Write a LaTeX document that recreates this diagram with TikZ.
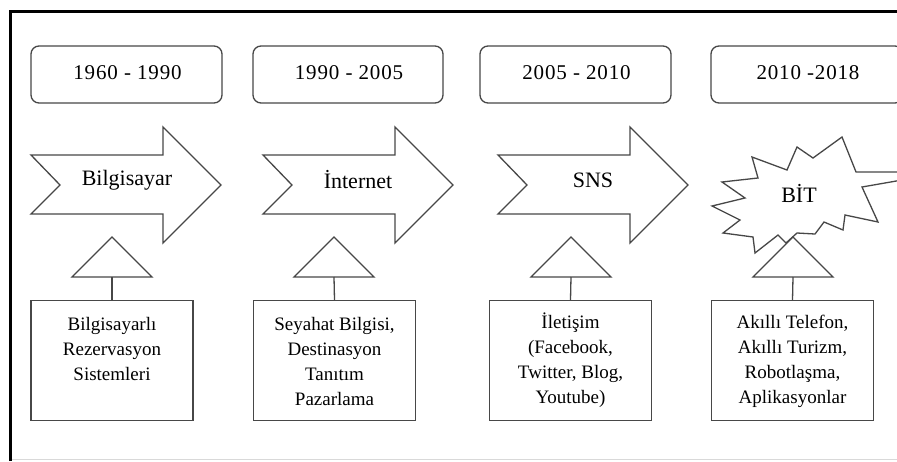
\documentclass[tikz,border=0pt]{standalone}
\usepackage{fontspec}
\setmainfont{Liberation Serif}
\newfontfamily\spacedserif[LetterSpace=4]{Liberation Serif}
\begin{document}
\begin{tikzpicture}[x=1pt,y=-1pt,
  shape line/.style={draw=black!72,line width=1.3pt,line join=miter},
  period/.style={shape line,rounded corners=8pt,fill=white},
  era/.style={shape line,fill=white},
  periodtext/.style={font=\spacedserif\fontsize{21}{25}\selectfont,inner sep=0pt},
  eratext/.style={font=\fontsize{22}{26}\selectfont,inner sep=0pt},
  tri/.style={shape line,fill=white},
  infobox/.style={shape line,fill=white,rectangle,minimum width=162pt,minimum height=120pt,anchor=north,inner sep=0pt},
  infotext/.style={font=\fontsize{19}{25}\selectfont,align=center,anchor=north,inner sep=0pt},
  link/.style={draw=black!72,line width=1.3pt}]
\useasboundingbox (0,0) rectangle (897,461);
\fill[white] (0,0) rectangle (897,461);
% frame
\draw[black!15,line width=1pt] (10,459.5) -- (897,459.5);
\draw[black,line width=2.6pt] (10.5,461) -- (10.5,11.5) -- (900,11.5);

% period boxes
\draw[period] (31,46) rectangle (222,103);
\node[periodtext] (p1) at (127.5,73) {1960 - 1990};
\draw[period] (253,46) rectangle (443,103);
\node[periodtext] (p2) at (349,73) {1990 - 2005};
\draw[period] (480,46) rectangle (671,103);
\node[periodtext] (p3) at (576.5,73) {2005 - 2010};
\draw[period] (711,46) rectangle (903,103);
\node[periodtext] (p4) at (808,73) {2010 -2018};

% notched arrows
\foreach \t/\n in {31/a1,263/a2,498/a3}{
  \draw[era] (\t,155) -- (\t+132,155) -- (\t+132,127) -- (\t+190,185) -- (\t+132,243)
     -- (\t+132,214) -- (\t,214) -- (\t+29,185) -- cycle;
}
\node[eratext] (e1) at (127,180) {Bilgisayar};
\node[eratext] (e2) at (358,180) {İnternet};
\node[eratext] (e3) at (593,180) {SNS};

% burst
\draw[era] (712,206) -- (745,198) -- (722,182) -- (758,178) -- (752,157) -- (787,170)
  -- (797,147) -- (813,158) -- (842,137) -- (856,172) -- (925,172) -- (925,176) -- (862,187)
  -- (878,222) -- (845,215) -- (843,230) -- (824,222) -- (815,234) -- (797,233)
  -- (786,243) -- (778,235) -- (755,253) -- (753,237) -- (723,233) -- (740,220) -- cycle;
\node[eratext] (e4) at (799,193) {BİT};

% triangles
\foreach \c/\n in {112/t1,334/t2,571/t3,793/t4}{
  \draw[tri] (\c-40,277) -- (\c,237) -- (\c+40,277) -- cycle;
  \coordinate (\n) at (\c,277);
}

% info boxes
\node[infobox] (b1) at (112,300) {};
\node[infobox] (b2) at (334.5,300) {};
\node[infobox] (b3) at (570.5,300) {};
\node[infobox] (b4) at (792.5,300) {};

\node[infotext] (i1) at (112,312.5) {\strut Bilgisayarlı\\Rezervasyon\\Sistemleri};
\node[infotext] (i2) at (334.5,312.5) {\strut Seyahat Bilgisi,\\Destinasyon\\Tanıtım\\Pazarlama};
\node[infotext] (i3) at (570.5,310.5) {\strut İletişim\\(Facebook,\\Twitter, Blog,\\Youtube)};
\node[infotext] (i4) at (792.5,310.5) {\strut Akıllı Telefon,\\Akıllı Turizm,\\Robotlaşma,\\Aplikasyonlar};

% links
\draw[link] (t1) -- (b1.north);
\draw[link] (t2) -- (b2.north);
\draw[link] (t3) -- (b3.north);
\draw[link] (t4) -- (b4.north);
\end{tikzpicture}
\end{document}
